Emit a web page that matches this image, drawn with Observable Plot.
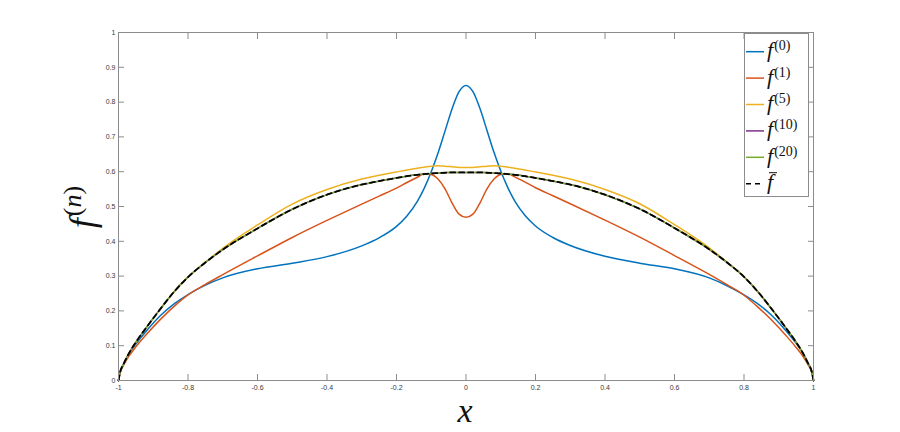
<!DOCTYPE html>
<html><head><meta charset="utf-8">
<script src="https://cdn.jsdelivr.net/npm/d3@7"></script>
<script src="https://cdn.jsdelivr.net/npm/@observablehq/plot@0.6"></script>
<style>body{margin:0;background:#fff}</style>
</head><body><div id="chart"></div>
<script>
const xGrid = [-1, -0.995, -0.985, -0.97, -0.95, -0.92, -0.88, -0.84, -0.8, -0.75, -0.7, -0.6, -0.5, -0.4, -0.3, -0.25, -0.2, -0.17, -0.14, -0.12, -0.1, -0.08, -0.06, -0.04, -0.02,
  0,
  0.02, 0.04, 0.06, 0.08, 0.1, 0.12, 0.14, 0.17, 0.2, 0.25, 0.3, 0.4, 0.5, 0.6, 0.7, 0.75, 0.8, 0.84, 0.88, 0.92, 0.95, 0.97, 0.985, 0.995, 1];

const f0 = [0, 0.025, 0.048, 0.076, 0.105, 0.142, 0.186, 0.22, 0.247, 0.274, 0.295, 0.321, 0.337, 0.356, 0.387, 0.41, 0.443, 0.473, 0.515, 0.553, 0.6, 0.655, 0.718, 0.781, 0.83,
  0.848,
  0.83, 0.782, 0.72, 0.657, 0.602, 0.555, 0.516, 0.474, 0.444, 0.411, 0.388, 0.357, 0.337, 0.321, 0.295, 0.273, 0.246, 0.22, 0.187, 0.144, 0.107, 0.078, 0.049, 0.026, 0];

const f1 = [0, 0.023, 0.045, 0.07, 0.097, 0.132, 0.175, 0.213, 0.246, 0.276, 0.304, 0.358, 0.411, 0.46, 0.507, 0.53, 0.553, 0.569, 0.584, 0.594, 0.592, 0.578, 0.55, 0.51, 0.478,
  0.469,
  0.478, 0.51, 0.55, 0.578, 0.592, 0.594, 0.585, 0.57, 0.554, 0.531, 0.508, 0.461, 0.412, 0.359, 0.305, 0.276, 0.245, 0.211, 0.173, 0.13, 0.095, 0.069, 0.044, 0.023, 0];

const f5 = [0, 0.025, 0.048, 0.078, 0.11, 0.152, 0.205, 0.255, 0.298, 0.34, 0.38, 0.447, 0.507, 0.549, 0.579, 0.59, 0.599, 0.605, 0.61, 0.613, 0.616, 0.617, 0.616, 0.614, 0.612,
  0.612,
  0.612, 0.614, 0.616, 0.617, 0.616, 0.613, 0.61, 0.605, 0.599, 0.59, 0.579, 0.549, 0.508, 0.448, 0.381, 0.341, 0.299, 0.255, 0.205, 0.152, 0.11, 0.078, 0.048, 0.025, 0];

const f10 = [0, 0.025, 0.048, 0.078, 0.11, 0.152, 0.205, 0.255, 0.297, 0.339, 0.376, 0.437, 0.492, 0.534, 0.563, 0.573, 0.582, 0.587, 0.591, 0.593, 0.595, 0.596, 0.597, 0.598, 0.598,
  0.598,
  0.598, 0.598, 0.597, 0.596, 0.595, 0.593, 0.591, 0.587, 0.582, 0.573, 0.563, 0.534, 0.493, 0.438, 0.377, 0.34, 0.298, 0.255, 0.205, 0.152, 0.11, 0.078, 0.048, 0.025, 0];

const f20 = [0, 0.025, 0.048, 0.078, 0.11, 0.152, 0.205, 0.255, 0.297, 0.339, 0.376, 0.437, 0.492, 0.534, 0.563, 0.573, 0.582, 0.587, 0.591, 0.593, 0.595, 0.596, 0.597, 0.598, 0.598,
  0.598,
  0.598, 0.598, 0.597, 0.596, 0.595, 0.593, 0.591, 0.587, 0.582, 0.573, 0.563, 0.534, 0.493, 0.438, 0.377, 0.34, 0.298, 0.255, 0.205, 0.152, 0.11, 0.078, 0.048, 0.025, 0];

const fbar = [0, 0.025, 0.048, 0.078, 0.11, 0.152, 0.205, 0.255, 0.297, 0.339, 0.376, 0.437, 0.492, 0.534, 0.563, 0.573, 0.582, 0.587, 0.591, 0.593, 0.595, 0.596, 0.597, 0.598, 0.598,
  0.598,
  0.598, 0.598, 0.597, 0.596, 0.595, 0.593, 0.591, 0.587, 0.582, 0.573, 0.563, 0.534, 0.493, 0.438, 0.377, 0.34, 0.298, 0.255, 0.205, 0.152, 0.11, 0.078, 0.048, 0.025, 0];

const seriesKeys = ["f0", "f1", "f5", "f10", "f20", "fbar"];
const seriesSup = ["(0)", "(1)", "(5)", "(10)", "(20)", null];
const seriesColors = ["#0072BD", "#D95319", "#EDB120", "#7E2F8E", "#77AC30", "#000000"];
const seriesValues = [f0, f1, f5, f10, f20, fbar];

const xTicks = [-1, -0.8, -0.6, -0.4, -0.2, 0, 0.2, 0.4, 0.6, 0.8, 1];
const xTickLabels = ["-1", "-0.8", "-0.6", "-0.4", "-0.2", "0", "0.2", "0.4", "0.6", "0.8", "1"];
const yTicks = [0, 0.1, 0.2, 0.3, 0.4, 0.5, 0.6, 0.7, 0.8, 0.9, 1];
const yTickLabels = ["0", "0.1", "0.2", "0.3", "0.4", "0.5", "0.6", "0.7", "0.8", "0.9", "1"];

const axisColor = "#8c8c8c";
const labelColor = "#3a3a3a";

const lineMarks = seriesKeys.map((k, si) => {
  const data = xGrid.map((x, i) => ({x, y: seriesValues[si][i]}));
  const dashed = k === "fbar";
  return Plot.line(data, {
    x: "x", y: "y",
    stroke: seriesColors[si],
    strokeWidth: dashed ? 1.8 : 1.5,
    strokeDasharray: dashed ? "5,4" : null,
    curve: "monotone-x"
  });
});

const svg = Plot.plot({
  width: 900, height: 432,
  marginLeft: 118, marginRight: 87, marginTop: 32, marginBottom: 52,
  style: {fontFamily: "Liberation Sans, Helvetica, Arial, sans-serif", fontSize: "7px", color: labelColor, background: "#fff"},
  x: {domain: [-1, 1]},
  y: {domain: [0, 1]},
  marks: [
    ...lineMarks,
    Plot.frame({stroke: axisColor, strokeWidth: 1}),
    Plot.axisX({ticks: xTicks, anchor: "bottom", tickSize: 0, tickPadding: 5, label: null,
      tickFormat: d => xTickLabels[xTicks.indexOf(d)]}),
    Plot.axisY({ticks: yTicks, anchor: "left", tickSize: 0, tickPadding: 3, label: null,
      tickFormat: d => yTickLabels[yTicks.indexOf(d)]}),
    Plot.axisX({ticks: xTicks, anchor: "bottom", tickSize: 6, dy: -6, label: null, stroke: axisColor, tickFormat: () => ""}),
    Plot.axisX({ticks: xTicks, anchor: "top", tickSize: 6, dy: 6, label: null, stroke: axisColor, tickFormat: () => ""}),
    Plot.axisY({ticks: yTicks, anchor: "left", tickSize: 6, dx: 6, label: null, stroke: axisColor, tickFormat: () => ""}),
    Plot.axisY({ticks: yTicks, anchor: "right", tickSize: 6, dx: -6, label: null, stroke: axisColor, tickFormat: () => ""})
  ]
});
document.getElementById("chart").appendChild(svg);

const s = d3.select(svg);
const mathFont = "'Liberation Serif', 'Times New Roman', serif";

// x axis label
s.append("text").attr("x", 465).attr("y", 422).attr("text-anchor", "middle")
  .attr("font-family", mathFont).attr("font-style", "italic").attr("font-size", 34).attr("fill", "#111").text("x");

// y axis label f^(n)
const yl = s.append("text").attr("transform", "translate(94,207) rotate(-90)").attr("text-anchor", "middle")
  .attr("font-family", mathFont).attr("font-size", 36).attr("fill", "#111");
yl.append("tspan").attr("font-style", "italic").text("f");
yl.append("tspan").attr("font-size", 26).attr("dy", -13).attr("dx", 2).text("(");
yl.append("tspan").attr("font-size", 26).attr("font-style", "italic").text("n");
yl.append("tspan").attr("font-size", 26).text(")");

// legend
const lg = s.append("g").attr("text-anchor", "start");
lg.append("rect").attr("x", 744.5).attr("y", 33.5).attr("width", 64).attr("height", 163)
  .attr("fill", "#fff").attr("stroke", axisColor).attr("stroke-width", 1);
seriesKeys.forEach((k, i) => {
  const y = 51.7 + i * 26.4;
  lg.append("line").attr("x1", 746).attr("x2", 764).attr("y1", y).attr("y2", y)
    .attr("stroke", seriesColors[i]).attr("stroke-width", 1.5)
    .attr("stroke-dasharray", k === "fbar" ? "5,4" : null);
  const t = lg.append("text").attr("x", 767).attr("y", y + 5.5).attr("text-anchor", "start")
    .attr("font-family", mathFont).attr("font-size", 22).attr("fill", "#111");
  t.append("tspan").attr("font-style", "italic").text("f");
  if (seriesSup[i]) {
    t.append("tspan").attr("font-size", 14).attr("dy", -7).attr("dx", 1).text(seriesSup[i]);
  } else {
    lg.append("line").attr("x1", 769).attr("x2", 777).attr("y1", y - 11).attr("y2", y - 11)
      .attr("stroke", "#111").attr("stroke-width", 1);
  }
});
</script>
</body></html>
